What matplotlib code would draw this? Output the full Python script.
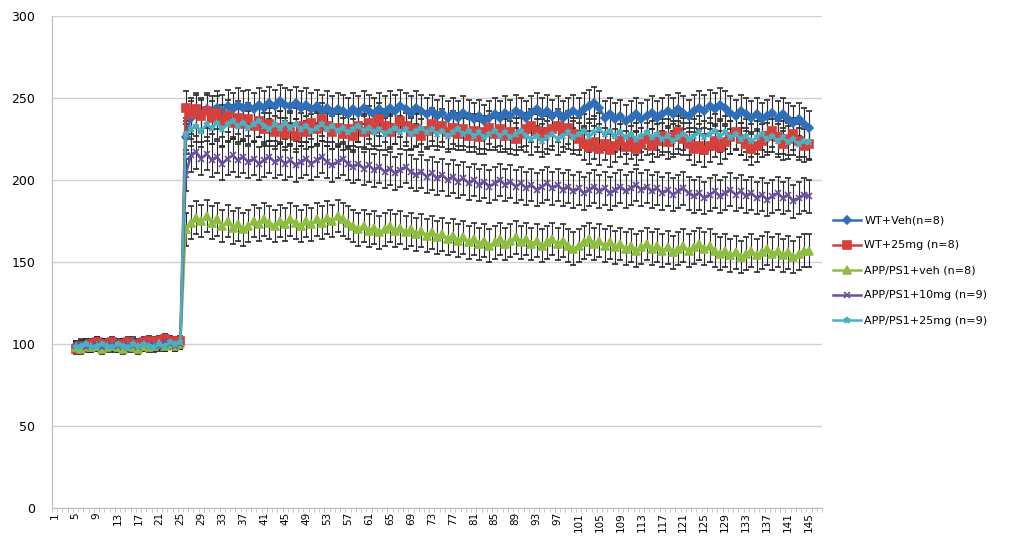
import numpy as np
import matplotlib
matplotlib.use("Agg")
import matplotlib.pyplot as plt
from matplotlib.lines import Line2D

# categories shown on the axis (1..147), data recorded from 5 to 145
categories = list(range(1, 148))
x_data = list(range(5, 146))
tick_labels = [str(c) for c in range(1, 148, 4)]

# baseline phase (categories 5-25)
base_wt_veh = [99, 98, 100, 99, 101, 100, 99, 100, 98, 100, 99, 101, 100, 99, 100, 101, 100, 102, 101, 100, 101]
base_wt_25 = [97, 99, 98, 100, 101, 99, 100, 101, 99, 100, 101, 100, 99, 101, 102, 101, 102, 103, 102, 101, 102]
base_app_veh = [98, 97, 99, 98, 99, 97, 98, 99, 98, 97, 99, 98, 97, 99, 98, 99, 100, 99, 100, 99, 100]
base_app_10 = [99, 100, 98, 99, 100, 98, 99, 100, 99, 98, 100, 99, 98, 100, 99, 100, 99, 101, 100, 99, 100]
base_app_25 = [98, 99, 100, 98, 99, 100, 99, 98, 100, 99, 98, 100, 99, 100, 99, 98, 100, 99, 101, 100, 101]

# test phase (categories 26-145)
wt_veh = [226, 238, 242, 240, 243, 241, 244, 242, 245, 243,
          246, 244, 245, 243, 246, 244, 247, 245, 248, 246,
          245, 247, 244, 246, 243, 245, 242, 244, 241, 243,
          242, 240, 243, 241, 244, 242, 240, 243, 241, 244,
          242, 245, 243, 241, 244, 242, 240, 242, 239, 241,
          238, 240, 238, 241, 239, 237, 239, 236, 238, 240,
          238, 241, 239, 242, 240, 238, 241, 243, 240, 242,
          239, 241, 238, 240, 242, 240, 243, 245, 247, 244,
          238, 240, 237, 239, 236, 238, 240, 237, 239, 241,
          238, 240, 242, 240, 243, 241, 239, 242, 244, 242,
          245, 243, 246, 244, 241, 239, 242, 240, 238, 240,
          237, 239, 241, 238, 240, 237, 235, 237, 234, 232]
wt_25 = [244, 240, 243, 239, 242, 238, 241, 236, 239, 235,
         238, 234, 237, 233, 236, 231, 234, 229, 232, 228,
         231, 227, 233, 229, 235, 231, 237, 233, 229, 232,
         228, 231, 227, 233, 229, 235, 231, 237, 233, 229,
         232, 236, 233, 229, 231, 227, 230, 234, 231, 233,
         229, 232, 228, 231, 227, 230, 226, 229, 232, 228,
         231, 227, 229, 225, 228, 231, 233, 230, 227, 229,
         231, 233, 230, 232, 228, 225, 222, 220, 223, 219,
         222, 218, 221, 224, 220, 223, 219, 222, 225, 221,
         224, 227, 223, 226, 229, 225, 222, 219, 221, 218,
         221, 224, 220, 223, 226, 229, 225, 222, 219, 221,
         224, 227, 230, 226, 222, 225, 228, 224, 221, 222]
app_veh = [170, 174, 177, 175, 178, 174, 176, 172, 175, 171,
           173, 170, 172, 175, 173, 176, 174, 172, 175, 173,
           176, 174, 172, 175, 173, 176, 174, 177, 175, 178,
           176, 174, 172, 170, 172, 169, 171, 168, 170, 172,
           169, 171, 168, 170, 167, 169, 166, 168, 165, 167,
           164, 166, 163, 165, 162, 164, 161, 163, 160, 162,
           164, 161, 163, 165, 162, 164, 161, 163, 160, 162,
           164, 161, 163, 160, 158, 160, 162, 164, 161, 163,
           160, 162, 159, 161, 158, 160, 157, 159, 161, 158,
           160, 157, 159, 156, 158, 160, 157, 159, 161, 158,
           160, 157, 155, 157, 154, 156, 153, 155, 157, 154,
           156, 158, 155, 157, 154, 156, 153, 155, 157, 157]
app_10 = [203, 215, 217, 213, 216, 212, 214, 210, 213, 215,
          212, 214, 211, 213, 210, 212, 214, 211, 213, 210,
          212, 209, 211, 213, 210, 212, 214, 211, 209, 211,
          213, 210, 208, 210, 207, 209, 206, 208, 205, 207,
          204, 206, 208, 205, 203, 205, 202, 204, 201, 203,
          200, 202, 199, 201, 198, 200, 197, 199, 196, 198,
          200, 197, 199, 196, 198, 195, 197, 194, 196, 198,
          195, 197, 194, 196, 193, 195, 192, 194, 196, 193,
          195, 192, 194, 196, 193, 195, 197, 194, 196, 193,
          195, 192, 194, 191, 193, 195, 192, 190, 192, 189,
          191, 193, 190, 192, 194, 191, 193, 190, 192, 189,
          191, 188, 190, 192, 189, 191, 187, 189, 191, 190]
app_25 = [228, 231, 233, 230, 234, 232, 235, 231, 234, 236,
          233, 235, 232, 234, 236, 233, 231, 234, 232, 235,
          232, 234, 231, 233, 230, 232, 234, 231, 233, 230,
          232, 229, 231, 233, 230, 232, 229, 231, 228, 230,
          232, 229, 231, 228, 230, 232, 229, 231, 228, 230,
          227, 229, 231, 228, 230, 227, 229, 226, 228, 230,
          227, 229, 226, 228, 230, 227, 225, 227, 224, 226,
          228, 225, 227, 229, 226, 228, 230, 227, 229, 231,
          228, 230, 227, 229, 226, 228, 225, 227, 229, 226,
          228, 225, 227, 224, 226, 228, 225, 227, 229, 226,
          228, 230, 227, 229, 226, 228, 225, 227, 224, 226,
          228, 225, 227, 224, 226, 223, 225, 222, 224, 223]

# SEM estimates: small in baseline, ~10 in test phase
err_base = [3] * 21
err_test = [10] * 120

labels = ["WT+Veh(n=8)", "WT+25mg (n=8)", "APP/PS1+veh (n=8)",
          "APP/PS1+10mg (n=9)", "APP/PS1+25mg (n=9)"]
series = [base_wt_veh + wt_veh, base_wt_25 + wt_25, base_app_veh + app_veh,
          base_app_10 + app_10, base_app_25 + app_25]
colors = ["#2F6FBA", "#D63F3B", "#8DBE3F", "#6A4FA0", "#4BB0C0"]
markers = ["D", "s", "^", "x", "*"]
msizes = [4, 6, 6, 4, 5]

fig = plt.figure(figsize=(10.10, 5.41), dpi=100)
ax = fig.add_axes([0.0515, 0.061, 0.7625, 0.9094])

err = err_base + err_test
handles = []
for vals, lab, c, m, ms in zip(series, labels, colors, markers, msizes):
    ax.errorbar(x_data, vals, yerr=err, color=c, ecolor="#2A2A2A", elinewidth=0.8,
                capsize=2, capthick=0.8, lw=1.8, marker=m, ms=ms, mew=1.2)
    handles.append(Line2D([], [], color=c, lw=1.8, marker=m, ms=ms, mew=1.2, label=lab))

ax.set_xlim(0.5, 147.5)
ax.set_ylim(0, 300)
ax.set_yticks(range(0, 301, 50))
ax.set_xticks(range(1, 148, 4))
ax.set_xticklabels(tick_labels, rotation=90, fontsize=7.5)
ax.set_xticks(np.arange(0.5, 148, 1), minor=True)
ax.tick_params(axis="x", which="major", length=0, pad=3)
ax.tick_params(axis="x", which="minor", length=3, color="#BBBBBB")
ax.tick_params(axis="y", length=0, labelsize=9, pad=12)
ax.grid(axis="y", color="#D0D0D0", lw=1)
ax.set_axisbelow(True)
for s in ["top", "right"]:
    ax.spines[s].set_visible(False)
ax.spines["left"].set_color("#BBBBBB")
ax.spines["bottom"].set_color("#BBBBBB")

fig.legend(handles=handles, loc="center left", bbox_to_anchor=(0.815, 0.5),
           frameon=False, fontsize=8, labelspacing=1.35, handlelength=2.5,
           handletextpad=0.3)

plt.savefig("out.png", dpi=100)
